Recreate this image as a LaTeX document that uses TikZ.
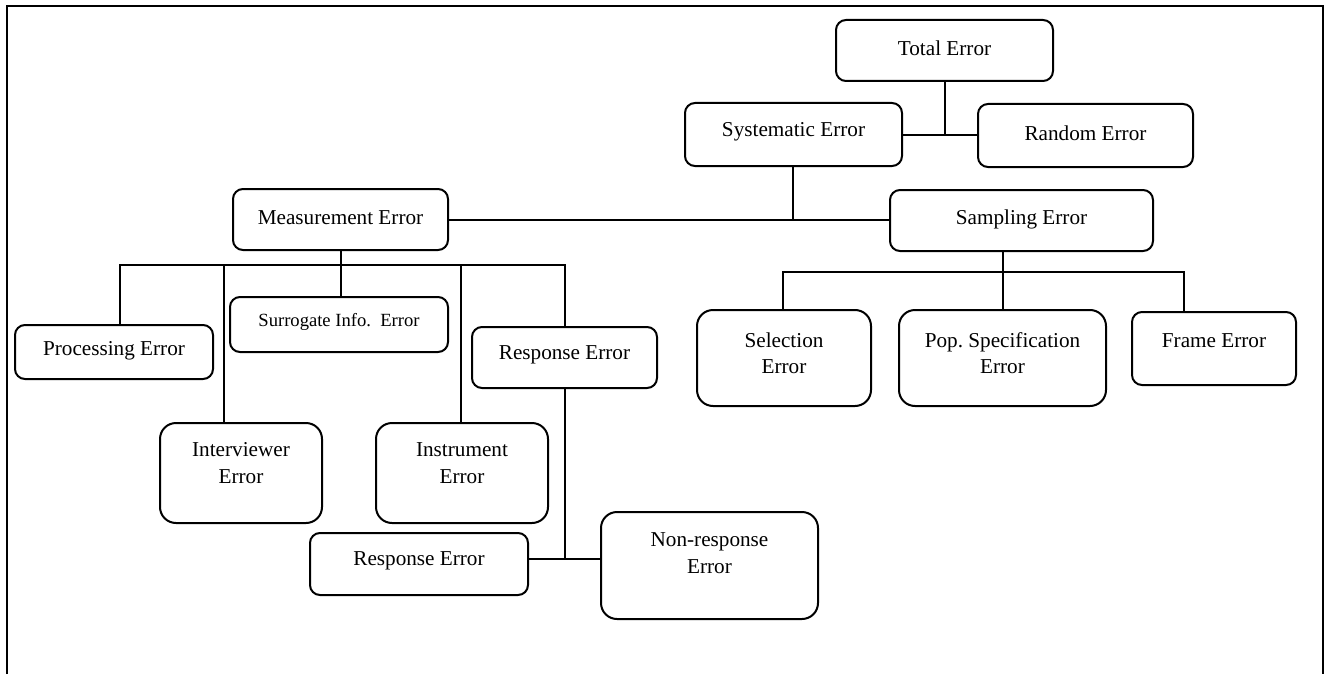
\documentclass[tikz,border=0pt]{standalone}
\usepackage{fontspec}
\setmainfont{Liberation Serif}
\begin{document}
\begin{tikzpicture}[x=1pt,y=-1pt]
\tikzset{
  box/.style={draw, line width=2pt, rounded corners=10pt, inner sep=0pt},
  tallbox/.style={box, rounded corners=16pt},
  lbl/.style={font=\fontsize{21.2}{26.5}\selectfont, align=center, inner sep=0pt},
  smalllbl/.style={lbl, font=\fontsize{18.6}{22}\selectfont},
  wire/.style={line width=2pt},
  frameline/.style={line width=2pt}
}
\useasboundingbox (0,0) rectangle (1329,674);
% open frame round the chart
\draw[frameline] (7,674) -- (7,6) -- (1323,6) -- (1323,674);

% ---- boxes ----
\node[box, minimum width=217pt, minimum height=61pt] (tot) at (944.5,50.5) {};
\node[box, minimum width=217pt, minimum height=63pt] (sys) at (793.5,134.5) {};
\node[box, minimum width=215pt, minimum height=63pt] (rnd) at (1085.5,135.5) {};
\node[box, minimum width=215pt, minimum height=61pt] (meas) at (340.5,219.5) {};
\node[box, minimum width=263pt, minimum height=61pt] (samp) at (1021.5,220.5) {};
\node[tallbox, minimum width=174pt, minimum height=96pt] (sel) at (784,358) {};
\node[tallbox, minimum width=207pt, minimum height=96pt] (pop) at (1002.5,358) {};
\node[box, minimum width=164pt, minimum height=73pt] (frm) at (1214,348.5) {};
\node[box, minimum width=198pt, minimum height=54pt] (proc) at (114,352) {};
\node[box, minimum width=218pt, minimum height=55pt] (sur) at (339,324.5) {};
\node[box, minimum width=185pt, minimum height=61pt] (resp) at (564.5,357.5) {};
\node[tallbox, minimum width=162pt, minimum height=100pt] (intv) at (241,473) {};
\node[tallbox, minimum width=172pt, minimum height=100pt] (inst) at (462,473) {};
\node[box, minimum width=218pt, minimum height=62pt] (resp2) at (419,564) {};
\node[tallbox, minimum width=217pt, minimum height=107pt] (nonr) at (709.5,565.5) {};

% ---- texts ----
\node[lbl] (tot-t) at (944.5,48) {Total Error};
\node[lbl] (sys-t) at (793.5,132) {Systematic Error};
\node[lbl] (rnd-t) at (1085.5,133) {Random Error};
\node[lbl] (meas-t) at (340.5,218) {Measurement Error};
\node[lbl] (samp-t) at (1021.5,219) {Sampling Error};
\node[lbl] (sel-t) at (784,353) {Selection\\Error};
\node[lbl] (pop-t) at (1002.5,353) {Pop.\ Specification\\Error};
\node[lbl] (frm-t) at (1214,341) {Frame Error};
\node[lbl] (proc-t) at (114,351) {Processing Error};
\node[smalllbl] (sur-t) at (339,322) {Surrogate Info.\ \ Error};
\node[lbl] (resp-t) at (564.5,355) {Response Error};
\node[lbl] (intv-t) at (241,463) {Interviewer\\Error};
\node[lbl] (inst-t) at (462,463) {Instrument\\Error};
\node[lbl] (resp2-t) at (419,561) {Response Error};
\node[lbl] (nonr-t) at (709.5,553) {Non-response\\Error};

% ---- connectors ----
\coordinate (j1) at (945,135);
\draw[wire] (tot.south -| j1) -- (j1);
\draw[wire] (sys.east |- j1) -- (rnd.west |- j1);

\coordinate (j2) at (793,220);
\draw[wire] (sys.south -| j2) -- (j2);
\draw[wire] (meas.east |- j2) -- (samp.west |- j2);

% sampling branch
\coordinate (sbL) at (783,272);
\coordinate (sbM) at (1003,272);
\coordinate (sbR) at (1184,272);
\draw[wire] (samp.south -| sbM) -- (pop.north -| sbM);
\draw[wire] (sel.north -| sbL) -- (sbL) -- (sbR) -- (frm.north -| sbR);

% measurement branch
\coordinate (mbL) at (120,265);
\coordinate (mbR) at (565,265);
\coordinate (ms) at (341,265);
\coordinate (iv) at (224,265);
\coordinate (is) at (461,265);
\draw[wire] (proc.north -| mbL) -- (mbL) -- (mbR) -- (resp.north -| mbR);
\draw[wire] (meas.south -| ms) -- (sur.north -| ms);
\draw[wire] (iv) -- (intv.north -| iv);
\draw[wire] (is) -- (inst.north -| is);

% response split
\coordinate (j3) at (565,559);
\draw[wire] (resp.south -| j3) -- (j3);
\draw[wire] (resp2.east |- j3) -- (nonr.west |- j3);
\end{tikzpicture}
\end{document}
